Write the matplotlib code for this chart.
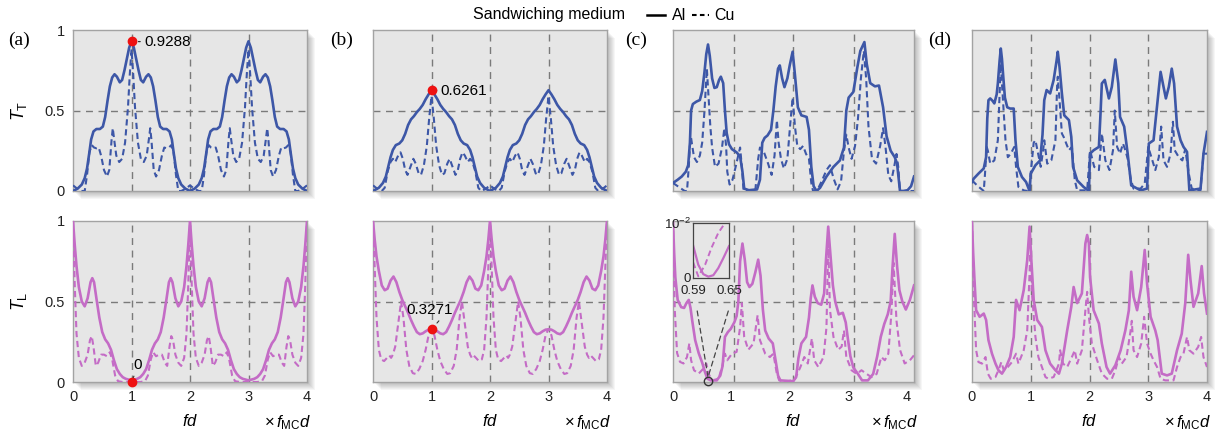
import numpy as np
import matplotlib
matplotlib.use("Agg")
import matplotlib.pyplot as plt
from matplotlib.lines import Line2D
from matplotlib.patches import Rectangle, ConnectionPatch

plt.rcParams["font.family"] = ["Liberation Sans", "DejaVu Sans"]
plt.rcParams["mathtext.fontset"] = "custom"
plt.rcParams["mathtext.rm"] = "Liberation Sans"
plt.rcParams["mathtext.it"] = "Liberation Sans:italic"

BLUE = "#3d57a7"
PINK = "#c46cc6"
BG = "#e6e6e6"

# ---------------------------------------------------------------
# values (fd in units of f_MC d)
# ---------------------------------------------------------------
a_top_al = [
    (0, 0.0), (0.08, 0.015), (0.15, 0.04), (0.2, 0.08), (0.24, 0.14), (0.28, 0.24), (0.31, 0.32), (0.35, 0.37),
    (0.4, 0.385), (0.46, 0.385), (0.51, 0.4), (0.55, 0.46), (0.59, 0.56), (0.63, 0.65), (0.67, 0.705), (0.71, 0.725),
    (0.75, 0.71), (0.8, 0.675), (0.84, 0.69), (0.88, 0.75), (0.92, 0.82), (0.96, 0.89), (1.0, 0.93),
    (1.04, 0.89), (1.08, 0.82), (1.12, 0.75), (1.16, 0.69), (1.2, 0.675), (1.25, 0.71), (1.29, 0.725), (1.33, 0.705),
    (1.37, 0.65), (1.41, 0.56), (1.45, 0.46), (1.49, 0.4), (1.54, 0.385), (1.6, 0.385), (1.65, 0.37), (1.69, 0.32),
    (1.72, 0.24), (1.76, 0.14), (1.8, 0.08), (1.85, 0.04), (1.92, 0.015), (2.0, 0.0),
    (2.08, 0.015), (2.15, 0.04), (2.2, 0.08), (2.24, 0.14), (2.28, 0.24), (2.31, 0.32), (2.35, 0.37),
    (2.4, 0.385), (2.46, 0.385), (2.51, 0.4), (2.55, 0.46), (2.59, 0.56), (2.63, 0.65), (2.67, 0.705), (2.71, 0.725),
    (2.75, 0.71), (2.8, 0.675), (2.84, 0.69), (2.88, 0.75), (2.92, 0.82), (2.96, 0.89), (3.0, 0.93),
    (3.04, 0.89), (3.08, 0.82), (3.12, 0.75), (3.16, 0.69), (3.2, 0.675), (3.25, 0.71), (3.29, 0.725), (3.33, 0.705),
    (3.37, 0.65), (3.41, 0.56), (3.45, 0.46), (3.49, 0.4), (3.54, 0.385), (3.6, 0.385), (3.65, 0.37), (3.69, 0.32),
    (3.72, 0.24), (3.76, 0.14), (3.8, 0.08), (3.85, 0.04), (3.92, 0.015), (4.0, 0.0),
]
a_top_cu = [
    (0, 0.035), (0.07, 0.015), (0.15, 0.0), (0.2, 0.0), (0.24, 0.1), (0.28, 0.24), (0.32, 0.285), (0.36, 0.27),
    (0.4, 0.265), (0.44, 0.27), (0.48, 0.22), (0.53, 0.13), (0.58, 0.09), (0.62, 0.13), (0.66, 0.32), (0.68, 0.39),
    (0.7, 0.33), (0.74, 0.22), (0.79, 0.18), (0.84, 0.2), (0.89, 0.3), (0.94, 0.52), (0.97, 0.72), (1.0, 0.88),
    (1.03, 0.72), (1.06, 0.52), (1.11, 0.3), (1.16, 0.2), (1.21, 0.18), (1.26, 0.22), (1.3, 0.33), (1.32, 0.39),
    (1.34, 0.32), (1.38, 0.13), (1.42, 0.09), (1.47, 0.13), (1.52, 0.22), (1.56, 0.27), (1.6, 0.265), (1.64, 0.27),
    (1.68, 0.285), (1.72, 0.24), (1.76, 0.1), (1.8, 0.0), (1.85, 0.0), (1.93, 0.015), (2.0, 0.035),
    (2.07, 0.015), (2.15, 0.0), (2.2, 0.0), (2.24, 0.1), (2.28, 0.24), (2.32, 0.285), (2.36, 0.27),
    (2.4, 0.265), (2.44, 0.27), (2.48, 0.22), (2.53, 0.13), (2.58, 0.09), (2.62, 0.13), (2.66, 0.32), (2.68, 0.39),
    (2.7, 0.33), (2.74, 0.22), (2.79, 0.18), (2.84, 0.2), (2.89, 0.3), (2.94, 0.52), (2.97, 0.72), (3.0, 0.88),
    (3.03, 0.72), (3.06, 0.52), (3.11, 0.3), (3.16, 0.2), (3.21, 0.18), (3.26, 0.22), (3.3, 0.33), (3.32, 0.39),
    (3.34, 0.32), (3.38, 0.13), (3.42, 0.09), (3.47, 0.13), (3.52, 0.22), (3.56, 0.27), (3.6, 0.265), (3.64, 0.27),
    (3.68, 0.285), (3.72, 0.24), (3.76, 0.1), (3.8, 0.0), (3.85, 0.0), (3.93, 0.015), (4.0, 0.035),
]
a_bot_al = [
    (0, 1.0), (0.03, 0.85), (0.06, 0.72), (0.1, 0.59), (0.15, 0.5), (0.2, 0.47), (0.25, 0.52), (0.3, 0.62),
    (0.33, 0.645), (0.36, 0.62), (0.4, 0.52), (0.45, 0.4), (0.5, 0.31), (0.55, 0.265), (0.6, 0.24), (0.65, 0.2),
    (0.7, 0.135), (0.75, 0.08), (0.8, 0.05), (0.85, 0.03), (0.9, 0.02), (1.0, 0.01),
    (1.1, 0.02), (1.15, 0.03), (1.2, 0.05), (1.25, 0.08), (1.3, 0.135), (1.35, 0.2), (1.4, 0.24), (1.45, 0.265),
    (1.5, 0.31), (1.55, 0.4), (1.6, 0.52), (1.64, 0.62), (1.67, 0.645), (1.7, 0.62), (1.75, 0.52), (1.8, 0.47),
    (1.85, 0.5), (1.9, 0.59), (1.94, 0.72), (1.97, 0.85), (2.0, 1.0),
    (2.03, 0.85), (2.06, 0.72), (2.1, 0.59), (2.15, 0.5), (2.2, 0.47), (2.25, 0.52), (2.3, 0.62),
    (2.33, 0.645), (2.36, 0.62), (2.4, 0.52), (2.45, 0.4), (2.5, 0.31), (2.55, 0.265), (2.6, 0.24), (2.65, 0.2),
    (2.7, 0.135), (2.75, 0.08), (2.8, 0.05), (2.85, 0.03), (2.9, 0.02), (3.0, 0.01),
    (3.1, 0.02), (3.15, 0.03), (3.2, 0.05), (3.25, 0.08), (3.3, 0.135), (3.35, 0.2), (3.4, 0.24), (3.45, 0.265),
    (3.5, 0.31), (3.55, 0.4), (3.6, 0.52), (3.64, 0.62), (3.67, 0.645), (3.7, 0.62), (3.75, 0.52), (3.8, 0.47),
    (3.85, 0.5), (3.9, 0.59), (3.94, 0.72), (3.97, 0.85), (4.0, 1.0),
]
a_bot_cu = [
    (0, 1.0), (0.03, 0.6), (0.06, 0.3), (0.1, 0.15), (0.15, 0.1), (0.2, 0.12), (0.25, 0.17), (0.29, 0.26),
    (0.32, 0.285), (0.35, 0.22), (0.39, 0.1), (0.43, 0.12), (0.48, 0.17), (0.53, 0.17), (0.58, 0.16), (0.63, 0.185),
    (0.67, 0.14), (0.72, 0.04), (0.77, 0.005), (0.85, 0.0), (1.0, 0.0),
    (1.15, 0.0), (1.23, 0.005), (1.28, 0.04), (1.33, 0.14), (1.37, 0.185), (1.42, 0.16), (1.47, 0.17), (1.52, 0.17),
    (1.57, 0.12), (1.61, 0.1), (1.65, 0.22), (1.68, 0.285), (1.71, 0.26), (1.75, 0.17), (1.8, 0.12), (1.85, 0.1),
    (1.9, 0.15), (1.94, 0.3), (1.97, 0.6), (2.0, 1.0),
    (2.03, 0.6), (2.06, 0.3), (2.1, 0.15), (2.15, 0.1), (2.2, 0.12), (2.25, 0.17), (2.29, 0.26),
    (2.32, 0.285), (2.35, 0.22), (2.39, 0.1), (2.43, 0.12), (2.48, 0.17), (2.53, 0.17), (2.58, 0.16), (2.63, 0.185),
    (2.67, 0.14), (2.72, 0.04), (2.77, 0.005), (2.85, 0.0), (3.0, 0.0),
    (3.15, 0.0), (3.23, 0.005), (3.28, 0.04), (3.33, 0.14), (3.37, 0.185), (3.42, 0.16), (3.47, 0.17), (3.52, 0.17),
    (3.57, 0.12), (3.61, 0.1), (3.65, 0.22), (3.68, 0.285), (3.71, 0.26), (3.75, 0.17), (3.8, 0.12), (3.85, 0.1),
    (3.9, 0.15), (3.94, 0.3), (3.97, 0.6), (4.0, 1.0),
]

b_top_al = [
    (0, 0.0), (0.1, 0.02), (0.17, 0.05), (0.22, 0.09), (0.26, 0.15), (0.3, 0.21), (0.34, 0.255), (0.39, 0.285),
    (0.45, 0.295), (0.5, 0.315), (0.55, 0.355), (0.6, 0.41), (0.65, 0.445), (0.7, 0.465), (0.75, 0.49), (0.8, 0.51),
    (0.85, 0.535), (0.9, 0.57), (0.95, 0.6), (1.0, 0.626),
    (1.05, 0.6), (1.1, 0.57), (1.15, 0.535), (1.2, 0.51), (1.25, 0.49), (1.3, 0.465), (1.35, 0.445), (1.4, 0.41),
    (1.45, 0.355), (1.5, 0.315), (1.55, 0.295), (1.61, 0.285), (1.66, 0.255), (1.7, 0.21), (1.74, 0.15), (1.78, 0.09),
    (1.83, 0.05), (1.9, 0.02), (2.0, 0.0),
    (2.1, 0.02), (2.17, 0.05), (2.22, 0.09), (2.26, 0.15), (2.3, 0.21), (2.34, 0.255), (2.39, 0.285),
    (2.45, 0.295), (2.5, 0.315), (2.55, 0.355), (2.6, 0.41), (2.65, 0.445), (2.7, 0.465), (2.75, 0.49), (2.8, 0.51),
    (2.85, 0.535), (2.9, 0.57), (2.95, 0.6), (3.0, 0.626),
    (3.05, 0.6), (3.1, 0.57), (3.15, 0.535), (3.2, 0.51), (3.25, 0.49), (3.3, 0.465), (3.35, 0.445), (3.4, 0.41),
    (3.45, 0.355), (3.5, 0.315), (3.55, 0.295), (3.61, 0.285), (3.66, 0.255), (3.7, 0.21), (3.74, 0.15), (3.78, 0.09),
    (3.83, 0.05), (3.9, 0.02), (4.0, 0.0),
]
b_top_cu = [
    (0, 0.035), (0.08, 0.012), (0.15, 0.0), (0.2, 0.02), (0.25, 0.12), (0.3, 0.18), (0.34, 0.2), (0.38, 0.18),
    (0.43, 0.22), (0.47, 0.24), (0.51, 0.2), (0.55, 0.13), (0.59, 0.1), (0.64, 0.15), (0.69, 0.2), (0.73, 0.17),
    (0.78, 0.11), (0.82, 0.1), (0.87, 0.16), (0.92, 0.28), (0.96, 0.45), (1.0, 0.59),
    (1.04, 0.45), (1.08, 0.28), (1.13, 0.16), (1.18, 0.1), (1.22, 0.11), (1.27, 0.17), (1.31, 0.2), (1.36, 0.15),
    (1.41, 0.1), (1.45, 0.13), (1.49, 0.2), (1.53, 0.24), (1.57, 0.22), (1.62, 0.18), (1.66, 0.2), (1.7, 0.18),
    (1.75, 0.12), (1.8, 0.02), (1.85, 0.0), (1.92, 0.012), (2.0, 0.035),
    (2.08, 0.012), (2.15, 0.0), (2.2, 0.02), (2.25, 0.12), (2.3, 0.18), (2.34, 0.2), (2.38, 0.18),
    (2.43, 0.22), (2.47, 0.24), (2.51, 0.2), (2.55, 0.13), (2.59, 0.1), (2.64, 0.15), (2.69, 0.2), (2.73, 0.17),
    (2.78, 0.11), (2.82, 0.1), (2.87, 0.16), (2.92, 0.28), (2.96, 0.45), (3.0, 0.59),
    (3.04, 0.45), (3.08, 0.28), (3.13, 0.16), (3.18, 0.1), (3.22, 0.11), (3.27, 0.17), (3.31, 0.2), (3.36, 0.15),
    (3.41, 0.1), (3.45, 0.13), (3.49, 0.2), (3.53, 0.24), (3.57, 0.22), (3.62, 0.18), (3.66, 0.2), (3.7, 0.18),
    (3.75, 0.12), (3.8, 0.02), (3.85, 0.0), (3.92, 0.012), (4.0, 0.035),
]
b_bot_al = [
    (0, 1.0), (0.03, 0.88), (0.06, 0.78), (0.1, 0.69), (0.15, 0.6), (0.2, 0.57), (0.25, 0.58), (0.3, 0.63),
    (0.35, 0.655), (0.4, 0.62), (0.45, 0.56), (0.5, 0.51), (0.55, 0.47), (0.6, 0.43), (0.65, 0.385), (0.7, 0.345),
    (0.75, 0.31), (0.8, 0.297), (0.85, 0.302), (0.9, 0.315), (0.95, 0.325), (1.0, 0.327),
    (1.05, 0.325), (1.1, 0.315), (1.15, 0.302), (1.2, 0.297), (1.25, 0.31), (1.3, 0.345), (1.35, 0.385), (1.4, 0.43),
    (1.45, 0.47), (1.5, 0.51), (1.55, 0.56), (1.6, 0.62), (1.65, 0.655), (1.7, 0.63), (1.75, 0.58), (1.8, 0.57),
    (1.85, 0.6), (1.9, 0.69), (1.94, 0.78), (1.97, 0.88), (2.0, 1.0),
    (2.03, 0.88), (2.06, 0.78), (2.1, 0.69), (2.15, 0.6), (2.2, 0.57), (2.25, 0.58), (2.3, 0.63),
    (2.35, 0.655), (2.4, 0.62), (2.45, 0.56), (2.5, 0.51), (2.55, 0.47), (2.6, 0.43), (2.65, 0.385), (2.7, 0.345),
    (2.75, 0.31), (2.8, 0.297), (2.85, 0.302), (2.9, 0.315), (2.95, 0.325), (3.0, 0.327),
    (3.05, 0.325), (3.1, 0.315), (3.15, 0.302), (3.2, 0.297), (3.25, 0.31), (3.3, 0.345), (3.35, 0.385), (3.4, 0.43),
    (3.45, 0.47), (3.5, 0.51), (3.55, 0.56), (3.6, 0.62), (3.65, 0.655), (3.7, 0.63), (3.75, 0.58), (3.8, 0.57),
    (3.85, 0.6), (3.9, 0.69), (3.94, 0.78), (3.97, 0.88), (4.0, 1.0),
]
b_bot_cu = [
    (0, 1.0), (0.03, 0.7), (0.06, 0.4), (0.1, 0.2), (0.14, 0.14), (0.19, 0.13), (0.24, 0.15), (0.28, 0.165),
    (0.31, 0.15), (0.34, 0.17), (0.38, 0.22), (0.43, 0.36), (0.48, 0.5), (0.52, 0.4), (0.57, 0.2), (0.62, 0.1),
    (0.68, 0.055), (0.73, 0.05), (0.79, 0.08), (0.85, 0.13), (0.9, 0.2), (0.95, 0.29), (1.0, 0.33),
    (1.05, 0.29), (1.1, 0.2), (1.15, 0.13), (1.21, 0.08), (1.27, 0.05), (1.32, 0.055), (1.38, 0.1), (1.43, 0.2),
    (1.48, 0.4), (1.52, 0.5), (1.57, 0.36), (1.62, 0.22), (1.66, 0.17), (1.69, 0.15), (1.72, 0.165), (1.76, 0.15),
    (1.81, 0.13), (1.86, 0.14), (1.9, 0.2), (1.94, 0.4), (1.97, 0.7), (2.0, 1.0),
    (2.03, 0.7), (2.06, 0.4), (2.1, 0.2), (2.14, 0.14), (2.19, 0.13), (2.24, 0.15), (2.28, 0.165),
    (2.31, 0.15), (2.34, 0.17), (2.38, 0.22), (2.43, 0.36), (2.48, 0.5), (2.52, 0.4), (2.57, 0.2), (2.62, 0.1),
    (2.68, 0.055), (2.73, 0.05), (2.79, 0.08), (2.85, 0.13), (2.9, 0.2), (2.95, 0.29), (3.0, 0.33),
    (3.05, 0.29), (3.1, 0.2), (3.15, 0.13), (3.21, 0.08), (3.27, 0.05), (3.32, 0.055), (3.38, 0.1), (3.43, 0.2),
    (3.48, 0.4), (3.52, 0.5), (3.57, 0.36), (3.62, 0.22), (3.66, 0.17), (3.69, 0.15), (3.72, 0.165), (3.76, 0.15),
    (3.81, 0.13), (3.86, 0.14), (3.9, 0.2), (3.94, 0.4), (3.97, 0.7), (4.0, 1.0),
]

c_top_al = [
    (0, 0.05), (0.08, 0.07), (0.15, 0.09), (0.22, 0.12), (0.26, 0.16), (0.29, 0.3), (0.31, 0.5), (0.34, 0.54),
    (0.4, 0.555), (0.46, 0.565), (0.5, 0.62), (0.54, 0.74), (0.57, 0.85), (0.6, 0.91), (0.63, 0.84), (0.67, 0.7),
    (0.71, 0.64), (0.75, 0.645), (0.79, 0.69), (0.82, 0.71), (0.86, 0.67), (0.89, 0.5), (0.92, 0.36), (0.96, 0.29),
    (1.01, 0.26), (1.09, 0.24), (1.15, 0.215), (1.19, 0.12), (1.22, 0.015), (1.3, 0.005), (1.44, 0.01), (1.49, 0.07),
    (1.53, 0.3), (1.57, 0.33), (1.62, 0.345), (1.68, 0.38), (1.72, 0.5), (1.76, 0.65), (1.8, 0.76), (1.83, 0.78),
    (1.87, 0.7), (1.91, 0.645), (1.96, 0.7), (2.0, 0.78), (2.05, 0.865), (2.09, 0.72), (2.14, 0.52), (2.2, 0.47),
    (2.29, 0.46), (2.33, 0.38), (2.37, 0.15), (2.41, 0.03), (2.46, 0.0), (2.52, 0.02), (2.63, 0.09), (2.75, 0.15),
    (2.86, 0.19), (2.93, 0.27), (2.97, 0.5), (3.01, 0.58), (3.09, 0.615), (3.16, 0.77), (3.21, 0.87), (3.28, 0.925),
    (3.32, 0.79), (3.38, 0.67), (3.46, 0.65), (3.53, 0.655), (3.6, 0.52), (3.66, 0.34), (3.73, 0.25), (3.8, 0.21),
    (3.84, 0.17), (3.89, 0.0), (3.95, 0.0), (4.02, 0.005), (4.08, 0.03), (4.13, 0.09),
]
c_top_cu = [
    (0, 0.05), (0.1, 0.025), (0.2, 0.0), (0.24, 0.0), (0.27, 0.15), (0.29, 0.28), (0.31, 0.33), (0.33, 0.28),
    (0.36, 0.21), (0.41, 0.18), (0.46, 0.22), (0.5, 0.3), (0.54, 0.5), (0.58, 0.76), (0.61, 0.58), (0.64, 0.4),
    (0.67, 0.27), (0.72, 0.15), (0.78, 0.17), (0.84, 0.27), (0.88, 0.39), (0.91, 0.28), (0.93, 0.12), (0.97, 0.04),
    (1.02, 0.07), (1.08, 0.16), (1.13, 0.24), (1.15, 0.27), (1.18, 0.15), (1.21, 0.0), (1.41, 0.0), (1.46, 0.2),
    (1.49, 0.27), (1.55, 0.25), (1.63, 0.17), (1.69, 0.1), (1.74, 0.22), (1.78, 0.44), (1.81, 0.3), (1.85, 0.2),
    (1.9, 0.14), (1.96, 0.2), (2.01, 0.42), (2.05, 0.58), (2.09, 0.4), (2.13, 0.28), (2.18, 0.26), (2.23, 0.28),
    (2.28, 0.23), (2.33, 0.2), (2.37, 0.05), (2.4, 0.0), (2.48, 0.01), (2.56, 0.07), (2.63, 0.13), (2.69, 0.16),
    (2.75, 0.08), (2.82, 0.01), (2.88, 0.06), (2.93, 0.25), (2.97, 0.35), (3.01, 0.27), (3.06, 0.2), (3.12, 0.28),
    (3.17, 0.45), (3.22, 0.7), (3.27, 0.87), (3.31, 0.7), (3.35, 0.4), (3.41, 0.2), (3.48, 0.17), (3.55, 0.28),
    (3.6, 0.39), (3.64, 0.28), (3.69, 0.1), (3.74, 0.06), (3.79, 0.15), (3.83, 0.23), (3.86, 0.15), (3.89, 0.0),
    (4.13, 0.0),
]
c_bot_al = [
    (0, 0.99), (0.02, 0.8), (0.04, 0.65), (0.08, 0.51), (0.14, 0.465), (0.19, 0.46), (0.23, 0.49), (0.27, 0.51),
    (0.3, 0.46), (0.33, 0.38), (0.38, 0.26), (0.44, 0.18), (0.5, 0.12), (0.55, 0.06), (0.59, 0.02), (0.65, 0.01),
    (0.75, 0.01), (0.81, 0.04), (0.85, 0.1), (0.89, 0.28), (0.94, 0.31), (0.99, 0.33), (1.05, 0.37), (1.09, 0.41),
    (1.12, 0.5), (1.15, 0.75), (1.19, 0.86), (1.23, 0.76), (1.27, 0.62), (1.31, 0.59), (1.36, 0.61), (1.41, 0.68),
    (1.46, 0.76), (1.5, 0.66), (1.54, 0.45), (1.58, 0.32), (1.64, 0.27), (1.71, 0.24), (1.76, 0.13), (1.8, 0.04),
    (1.84, 0.01), (2.06, 0.005), (2.11, 0.03), (2.15, 0.15), (2.2, 0.24), (2.28, 0.28), (2.33, 0.4), (2.36, 0.52),
    (2.39, 0.6), (2.43, 0.53), (2.48, 0.49), (2.54, 0.48), (2.59, 0.55), (2.62, 0.75), (2.66, 0.965), (2.7, 0.78),
    (2.74, 0.6), (2.78, 0.5), (2.84, 0.42), (2.91, 0.43), (2.96, 0.37), (3.0, 0.26), (3.04, 0.16), (3.09, 0.09),
    (3.17, 0.05), (3.24, 0.01), (3.34, 0.01), (3.43, 0.05), (3.5, 0.16), (3.56, 0.28), (3.62, 0.36), (3.68, 0.42),
    (3.73, 0.5), (3.76, 0.7), (3.8, 0.92), (3.84, 0.72), (3.88, 0.57), (3.93, 0.5), (3.99, 0.45), (4.06, 0.51),
    (4.13, 0.6),
]
c_bot_cu = [
    (0, 1.0), (0.015, 0.7), (0.03, 0.45), (0.07, 0.18), (0.12, 0.125), (0.18, 0.115), (0.24, 0.155), (0.28, 0.24),
    (0.31, 0.135), (0.36, 0.073), (0.44, 0.052), (0.52, 0.083), (0.57, 0.115), (0.61, 0.05), (0.67, 0.01), (0.78, 0.02),
    (0.84, 0.093), (0.89, 0.176), (0.93, 0.135), (1.01, 0.176), (1.09, 0.187), (1.15, 0.34), (1.18, 0.49), (1.22, 0.28),
    (1.29, 0.2), (1.38, 0.24), (1.45, 0.415), (1.49, 0.26), (1.58, 0.176), (1.66, 0.155), (1.72, 0.176), (1.78, 0.05),
    (1.82, 0.01), (1.95, 0.0), (2.09, 0.02), (2.18, 0.09), (2.25, 0.155), (2.31, 0.115), (2.38, 0.27), (2.42, 0.135),
    (2.49, 0.093), (2.58, 0.155), (2.63, 0.34), (2.66, 0.86), (2.69, 0.446), (2.75, 0.28), (2.83, 0.2), (2.89, 0.22),
    (2.93, 0.32), (2.97, 0.155), (3.06, 0.073), (3.15, 0.05), (3.23, 0.073), (3.32, 0.05), (3.4, 0.03), (3.49, 0.05),
    (3.57, 0.155), (3.63, 0.135), (3.69, 0.176), (3.74, 0.415), (3.78, 0.74), (3.83, 0.38), (3.89, 0.2), (3.97, 0.115),
    (4.06, 0.135), (4.13, 0.166),
]
# inset of (c) bottom: fd 0.59 .. 0.65, T_L 0 .. 1e-2
c_inset_al = [
    (0.59, 0.0058), (0.5984, 0.0024), (0.6068, 0.0007), (0.6152, 0.00025), (0.6236, 0.0005), (0.632, 0.0018),
    (0.6404, 0.0036), (0.65, 0.0058),
]
c_inset_cu = [
    (0.59, 0.0028), (0.5912, 0.0024), (0.5984, 0.0003), (0.6098, 0.0024), (0.6206, 0.0055), (0.632, 0.0082),
    (0.6434, 0.01), (0.65, 0.0108),
]
c_zoom_fd = 0.6

d_top_al = [
    (0, 0.056), (0.03, 0.077), (0.11, 0.108), (0.2, 0.14), (0.24, 0.21), (0.26, 0.45), (0.28, 0.564), (0.31, 0.575),
    (0.35, 0.56), (0.38, 0.544), (0.42, 0.6), (0.44, 0.668), (0.47, 0.81), (0.49, 0.885), (0.51, 0.82), (0.53, 0.72),
    (0.56, 0.58), (0.6, 0.52), (0.65, 0.512), (0.71, 0.512), (0.74, 0.315), (0.78, 0.15), (0.85, 0.087), (0.92, 0.056),
    (0.98, 0.0), (1.0, 0.108), (1.08, 0.16), (1.16, 0.19), (1.2, 0.35), (1.23, 0.564), (1.27, 0.627), (1.33, 0.606),
    (1.39, 0.69), (1.44, 0.81), (1.46, 0.865), (1.49, 0.77), (1.53, 0.606), (1.57, 0.47), (1.65, 0.44), (1.69, 0.336),
    (1.72, 0.15), (1.79, 0.066), (1.9, 0.025), (1.99, 0.0), (2.01, 0.232), (2.07, 0.253), (2.16, 0.274), (2.19, 0.5),
    (2.21, 0.668), (2.26, 0.69), (2.33, 0.575), (2.38, 0.647), (2.44, 0.817), (2.49, 0.668), (2.52, 0.46), (2.59, 0.4),
    (2.65, 0.232), (2.71, 0.035), (2.87, 0.004), (2.98, 0.015), (3.01, 0.295), (3.09, 0.315), (3.16, 0.564), (3.21, 0.74),
    (3.26, 0.647), (3.3, 0.575), (3.35, 0.647), (3.4, 0.76), (3.44, 0.668), (3.49, 0.4), (3.55, 0.315), (3.6, 0.274),
    (3.66, 0.243), (3.7, 0.004), (3.89, 0.015), (3.94, 0.232), (4.0, 0.367),
]
d_top_cu = [
    (0, 0.066), (0.1, 0.03), (0.2, 0.0), (0.22, 0.1), (0.25, 0.274), (0.27, 0.25), (0.31, 0.17), (0.38, 0.19),
    (0.44, 0.315), (0.47, 0.606), (0.49, 0.79), (0.52, 0.606), (0.57, 0.315), (0.61, 0.21), (0.66, 0.232), (0.72, 0.274),
    (0.75, 0.15), (0.79, 0.025), (0.88, 0.004), (0.94, 0.0), (0.98, 0.035), (1.01, 0.15), (1.05, 0.3), (1.08, 0.315),
    (1.11, 0.26), (1.17, 0.15), (1.21, 0.25), (1.23, 0.315), (1.28, 0.17), (1.35, 0.19), (1.42, 0.315), (1.45, 0.668),
    (1.46, 0.71), (1.49, 0.564), (1.53, 0.357), (1.56, 0.336), (1.65, 0.253), (1.7, 0.274), (1.75, 0.066), (1.79, 0.004),
    (1.96, 0.004), (2.01, 0.253), (2.08, 0.15), (2.16, 0.13), (2.21, 0.357), (2.27, 0.19), (2.34, 0.13), (2.4, 0.253),
    (2.43, 0.5), (2.47, 0.274), (2.52, 0.232), (2.57, 0.295), (2.61, 0.253), (2.65, 0.2), (2.7, 0.077), (2.75, 0.015),
    (2.87, 0.015), (2.94, 0.046), (3.0, 0.274), (3.07, 0.19), (3.12, 0.13), (3.18, 0.21), (3.22, 0.4), (3.26, 0.19),
    (3.32, 0.15), (3.38, 0.232), (3.42, 0.43), (3.45, 0.253), (3.52, 0.21), (3.58, 0.19), (3.63, 0.26), (3.69, 0.108),
    (3.74, 0.015), (3.89, 0.004), (3.94, 0.232), (4.0, 0.232),
]
d_bot_al = [
    (0, 0.985), (0.02, 0.8), (0.04, 0.65), (0.07, 0.446), (0.13, 0.405), (0.2, 0.425), (0.24, 0.385), (0.28, 0.26),
    (0.34, 0.176), (0.4, 0.114), (0.45, 0.073), (0.51, 0.052), (0.58, 0.093), (0.65, 0.155), (0.71, 0.28), (0.75, 0.51),
    (0.81, 0.446), (0.88, 0.57), (0.94, 0.757), (0.98, 0.965), (1.01, 0.757), (1.05, 0.51), (1.11, 0.385), (1.19, 0.342),
    (1.25, 0.197), (1.33, 0.114), (1.42, 0.073), (1.48, 0.052), (1.53, 0.114), (1.62, 0.32), (1.69, 0.467), (1.73, 0.59),
    (1.79, 0.49), (1.87, 0.55), (1.93, 0.86), (1.96, 0.913), (1.99, 0.86), (2.01, 0.65), (2.07, 0.446), (2.16, 0.363),
    (2.21, 0.239), (2.29, 0.093), (2.35, 0.052), (2.44, 0.104), (2.53, 0.197), (2.61, 0.32), (2.67, 0.446), (2.71, 0.685),
    (2.75, 0.53), (2.81, 0.446), (2.88, 0.59), (2.94, 0.82), (2.98, 0.61), (3.04, 0.405), (3.12, 0.32), (3.16, 0.26),
    (3.23, 0.052), (3.32, 0.041), (3.4, 0.052), (3.49, 0.197), (3.57, 0.3), (3.63, 0.49), (3.68, 0.79), (3.72, 0.63),
    (3.77, 0.467), (3.85, 0.55), (3.91, 0.72), (3.95, 0.55), (4.0, 0.425),
]
d_bot_cu = [
    (0, 1.0), (0.03, 0.55), (0.07, 0.197), (0.11, 0.124), (0.17, 0.114), (0.23, 0.155), (0.27, 0.052), (0.32, 0.02),
    (0.4, 0.031), (0.45, 0.073), (0.5, 0.124), (0.54, 0.073), (0.61, 0.093), (0.68, 0.124), (0.75, 0.176), (0.79, 0.114),
    (0.88, 0.197), (0.94, 0.32), (0.98, 0.674), (0.99, 0.8), (1.02, 0.55), (1.08, 0.28), (1.13, 0.155), (1.19, 0.093),
    (1.25, 0.031), (1.3, 0.02), (1.39, 0.031), (1.48, 0.114), (1.5, 0.197), (1.55, 0.114), (1.62, 0.093), (1.7, 0.155),
    (1.75, 0.197), (1.79, 0.114), (1.87, 0.197), (1.93, 0.446), (1.96, 0.56), (1.99, 0.405), (2.04, 0.239), (2.13, 0.135),
    (2.21, 0.052), (2.3, 0.02), (2.38, 0.02), (2.44, 0.073), (2.5, 0.155), (2.55, 0.114), (2.63, 0.155), (2.7, 0.32),
    (2.72, 0.38), (2.75, 0.197), (2.81, 0.155), (2.88, 0.239), (2.93, 0.405), (2.98, 0.239), (3.04, 0.176), (3.09, 0.135),
    (3.15, 0.093), (3.21, 0.02), (3.29, 0.01), (3.43, 0.01), (3.49, 0.093), (3.55, 0.155), (3.6, 0.176), (3.66, 0.28),
    (3.7, 0.197), (3.77, 0.176), (3.85, 0.218), (3.9, 0.28), (3.94, 0.155), (4.0, 0.093),
]

# marked points
a_top_peak = (1.0, 0.9288)
a_bot_min = (1.0, 0.0)
b_top_peak = (1.0, 0.6261)
b_bot_val = (1.0, 0.3271)

# ---------------------------------------------------------------
# layout (pixels of a 1222 x 433 canvas)
# ---------------------------------------------------------------
W, H = 1222, 433
cols = [(73, 307), (373, 607), (673, 914), (972, 1207)]
rows = [(30, 191), (221, 382)]
xmax = [4.0, 4.0, 4.13, 4.0]
grid_x = [[1, 2, 3], [1, 2, 3], [1.04, 2.06, 3.1], [1, 2, 3]]
letters = ["(a)", "(b)", "(c)", "(d)"]
letter_x = [8, 330, 625, 928]
DASH = (0, (3.0, 1.8))

fig = plt.figure(figsize=(W / 100, H / 100), dpi=100)


def add_panel(left, right, top, bottom):
    # soft drop shadow to the lower right
    for k in range(1, 9):
        fig.add_artist(Rectangle(((left + k) / W, 1 - (bottom + k) / H), (right - left) / W, (bottom - top) / H,
                                 transform=fig.transFigure, facecolor="black", edgecolor="none",
                                 alpha=0.035, zorder=-5))
    ax = fig.add_axes([left / W, 1 - bottom / H, (right - left) / W, (bottom - top) / H])
    ax.set_facecolor(BG)
    for s in ax.spines.values():
        s.set_color("#a3a3a3")
        s.set_linewidth(1.0)
    ax.tick_params(length=0, labelsize=10.5, pad=6, colors="#222222")
    return ax


def curve(ax, pts, color, dashed=False):
    xy = np.array(pts).T
    if dashed:
        ax.plot(xy[0], xy[1], color=color, lw=1.5, ls=DASH, zorder=3)
    else:
        ax.plot(xy[0], xy[1], color=color, lw=1.9, zorder=3, solid_joinstyle="round")


curves = [
    [(a_top_al, a_top_cu), (a_bot_al, a_bot_cu)],
    [(b_top_al, b_top_cu), (b_bot_al, b_bot_cu)],
    [(c_top_al, c_top_cu), (c_bot_al, c_bot_cu)],
    [(d_top_al, d_top_cu), (d_bot_al, d_bot_cu)],
]

axes = {}
for ci, (l, r) in enumerate(cols):
    for ri, (t, b) in enumerate(rows):
        ax = add_panel(l, r, t, b)
        axes[(ci, ri)] = ax
        ax.set_xlim(0, xmax[ci])
        ax.set_ylim(0, 1)
        for gx in grid_x[ci]:
            ax.axvline(gx, color="#7a7a7a", lw=1.0, ls=(0, (5, 4)), zorder=1)
        ax.axhline(0.5, color="#7a7a7a", lw=1.0, ls=(0, (5, 4)), zorder=1)
        color = BLUE if ri == 0 else PINK
        al, cu = curves[ci][ri]
        curve(ax, al, color)
        curve(ax, cu, color, dashed=True)
        ax.set_xticks([0, 1, 2, 3, 4])
        ax.set_yticks([0, 0.5, 1])
        ax.set_yticklabels(["0", "0.5", "1"])
        if ci != 0:
            ax.tick_params(labelleft=False)
        if ri == 0:
            ax.tick_params(labelbottom=False)
        else:
            ax.text(0.5, -0.24, "$fd$", transform=ax.transAxes, ha="center", va="center", fontsize=12)
            ax.text(1.015, -0.25, r"$\times\,f_{\mathrm{MC}}d$", transform=ax.transAxes, ha="right",
                    va="center", fontsize=12)
    fig.text(letter_x[ci] / W, 1 - 40 / H, letters[ci], fontsize=14, family="Liberation Serif",
             ha="left", va="center")

axes[(0, 0)].set_ylabel(r"$T_{\mathrm{T}}$", fontsize=13)
axes[(0, 1)].set_ylabel(r"$T_{\mathrm{L}}$", fontsize=13)
axes[(0, 0)].yaxis.set_label_coords(-0.19, 0.5)
axes[(0, 1)].yaxis.set_label_coords(-0.19, 0.5)

# highlighted values
RED = "#ee1111"
ann_kw = dict(fontsize=11, va="center", ha="left")
ax = axes[(0, 0)]
ax.plot(*a_top_peak, "o", color=RED, ms=6, zorder=5, clip_on=False)
ax.annotate("%.4f" % a_top_peak[1], xy=a_top_peak, xytext=(1.22, 0.925), **ann_kw,
            arrowprops=dict(arrowstyle="-", color="#333333", lw=0.9, shrinkA=1, shrinkB=5))
ax = axes[(1, 0)]
ax.plot(*b_top_peak, "o", color=RED, ms=6, zorder=5, clip_on=False)
ax.annotate("%.4f" % b_top_peak[1], xy=b_top_peak, xytext=(1.16, 0.623), **ann_kw,
            arrowprops=dict(arrowstyle="-", color="#333333", lw=0.9, shrinkA=1, shrinkB=5))
ax = axes[(0, 1)]
ax.plot(*a_bot_min, "o", color=RED, ms=6, zorder=5, clip_on=False)
ax.annotate("0", xy=a_bot_min, xytext=(1.1, 0.105), fontsize=11, ha="center", va="center",
            arrowprops=dict(arrowstyle="-", color="#333333", lw=0.8, shrinkA=1, shrinkB=7,
                            relpos=(0.3, 0.0)))
ax = axes[(1, 1)]
ax.plot(*b_bot_val, "o", color=RED, ms=6, zorder=5, clip_on=False)
ax.annotate("%.4f" % b_bot_val[1], xy=b_bot_val, xytext=(0.96, 0.447), fontsize=11, ha="center",
            va="center", arrowprops=dict(arrowstyle="-", color="#333333", lw=0.8, shrinkA=1, shrinkB=6,
                                         relpos=(0.78, 0.0)))

# inset of (c) bottom
axc = axes[(2, 1)]
ins = fig.add_axes([693.3 / W, 1 - 278 / H, 35.7 / W, 55 / H])
ins.set_facecolor(BG)
for s in ins.spines.values():
    s.set_color("#444444")
    s.set_linewidth(0.9)
xy = np.array(c_inset_al).T
ins.plot(xy[0], xy[1], color=PINK, lw=1.6)
xy = np.array(c_inset_cu).T
ins.plot(xy[0], xy[1], color=PINK, lw=1.4, ls=DASH)
ins.set_xlim(0.59, 0.65)
ins.set_ylim(0, 0.01)
ins.set_xticks([0.59, 0.65])
ins.set_xticklabels(["0.59", "0.65"])
ins.set_yticks([0, 0.01])
ins.set_yticklabels(["0", "$10^{-2}$"])
ins.tick_params(length=0, labelsize=9.5, colors="#222222")
ins.tick_params(axis="x", pad=5)
ins.tick_params(axis="y", pad=2)
axc.plot(c_zoom_fd, 0.008, "o", mfc="none", mec="#333333", ms=6, mew=1.0, zorder=6, clip_on=False)
for fx in (0.11, 0.98):
    con = ConnectionPatch(xyA=(fx, -0.6), coordsA=ins.transAxes, xyB=(c_zoom_fd, 0.03),
                          coordsB=axc.transData, color="#444444", lw=0.9, ls=(0, (4, 3)))
    fig.add_artist(con)

# legend row
yl = 1 - 15 / H
fig.text(473 / W, yl, "Sandwiching medium", fontsize=11.5, ha="left", va="center")
fig.add_artist(Line2D([647 / W, 665 / W], [yl, yl], color="black", lw=1.8))
fig.text(672 / W, yl, "Al", fontsize=11.5, ha="left", va="center")
fig.add_artist(Line2D([692 / W, 709 / W], [yl, yl], color="black", lw=1.5, ls=(0, (2.2, 1.6))))
fig.text(714 / W, yl, "Cu", fontsize=11.5, ha="left", va="center")

fig.savefig("out.png", dpi=100)
